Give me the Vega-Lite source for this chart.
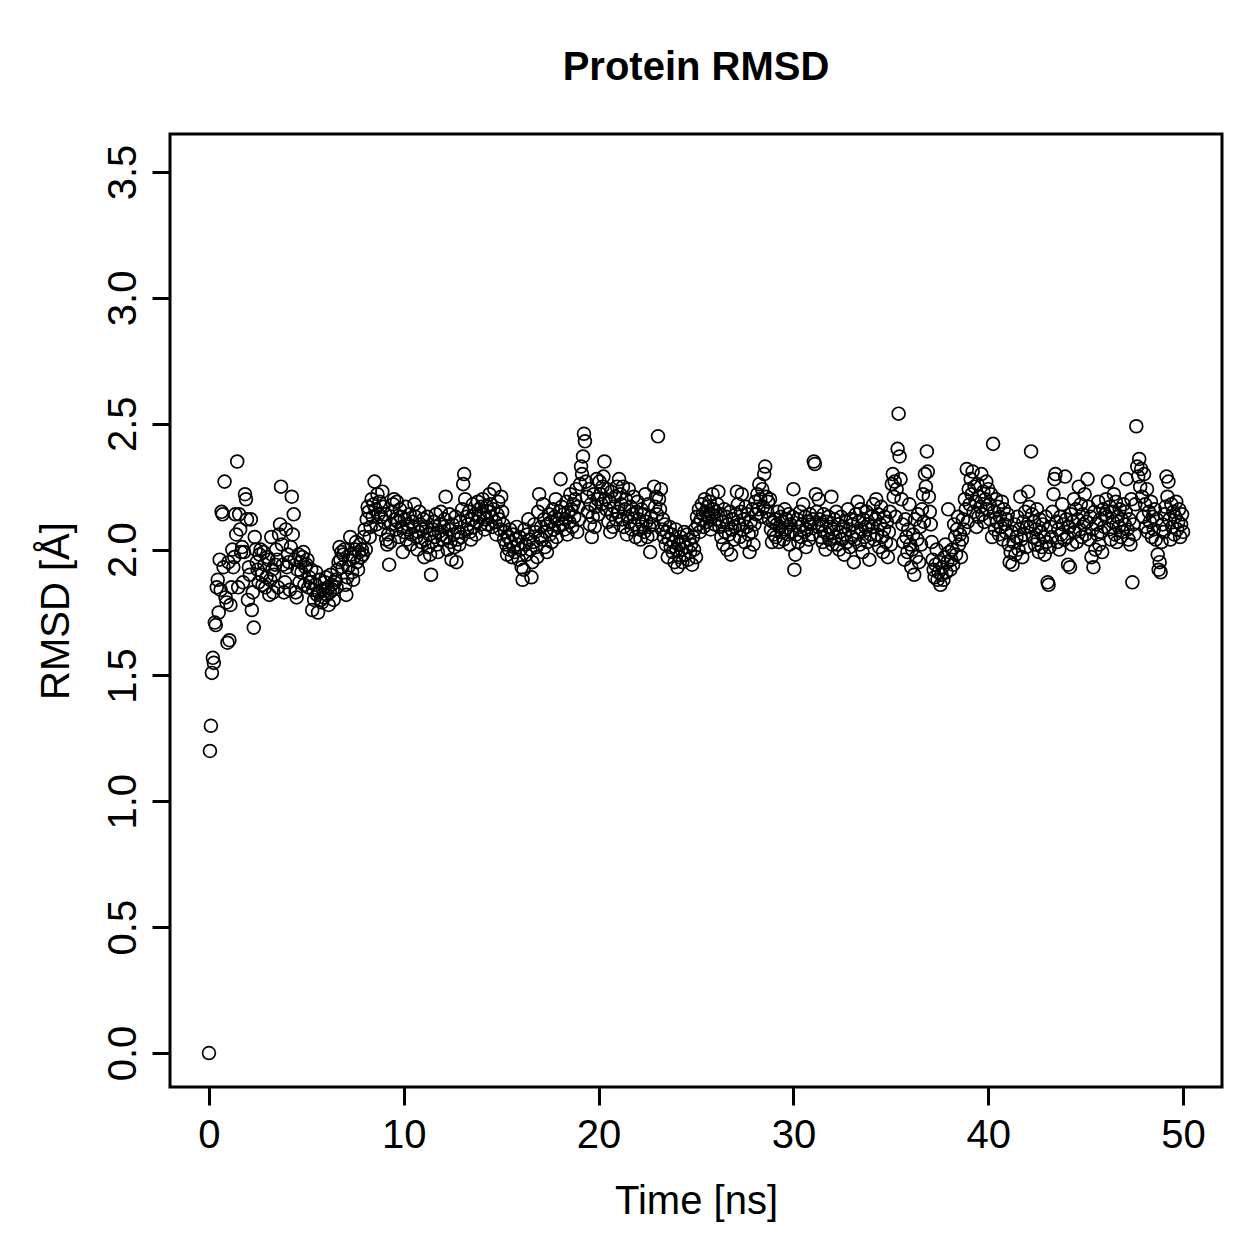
{
"$schema":"https://vega.github.io/schema/vega-lite/v6.json",
"width":1052,"height":953,
"autosize":{"type":"none"},
"padding":{"left":170,"top":134,"right":37,"bottom":172},
"background":"white",
"title":{"text":"Protein RMSD","font":"Liberation Sans","fontSize":40,"fontWeight":"bold","color":"black","anchor":"middle","frame":"group","offset":46},
"config":{"view":{"stroke":"black","strokeWidth":3}},
"data":{"values":[
{"t":0,"r":0},
{"t":0.05,"r":1.20},{"t":0.1,"r":1.30},{"t":0.15,"r":1.51},{"t":0.2,"r":1.57},{"t":0.25,"r":1.55},{"t":0.3,"r":1.71},{"t":0.35,"r":1.70},{"t":0.4,"r":1.85},{"t":0.45,"r":1.88},{"t":0.5,"r":1.75},{"t":0.55,"r":1.96},{"t":0.6,"r":1.84},{"t":0.65,"r":2.15},{"t":0.7,"r":2.14},{"t":0.75,"r":1.93},{"t":0.8,"r":2.27},{"t":0.85,"r":1.81},{"t":0.9,"r":1.79},{"t":0.95,"r":1.63},{"t":1,"r":1.95},
{"t":1.05,"r":1.64},{"t":1.1,"r":1.78},{"t":1.15,"r":1.85},{"t":1.2,"r":2.00},{"t":1.25,"r":1.93},{"t":1.3,"r":1.97},{"t":1.35,"r":2.14},{"t":1.4,"r":2.06},{"t":1.45,"r":2.35},{"t":1.5,"r":1.85},{"t":1.55,"r":2.14},{"t":1.6,"r":2.08},{"t":1.65,"r":1.99},{"t":1.7,"r":2.01},{"t":1.75,"r":1.87},{"t":1.8,"r":1.99},{"t":1.85,"r":2.22},{"t":1.9,"r":2.20},{"t":1.95,"r":2.12},{"t":2,"r":1.80},
{"t":2.05,"r":1.93},{"t":2.1,"r":1.90},{"t":2.15,"r":2.12},{"t":2.2,"r":1.76},{"t":2.25,"r":1.83},{"t":2.3,"r":1.69},{"t":2.35,"r":2.05},{"t":2.4,"r":2.00},{"t":2.45,"r":1.95},{"t":2.5,"r":1.92},{"t":2.55,"r":1.87},{"t":2.6,"r":1.98},{"t":2.65,"r":2.00},{"t":2.7,"r":1.90},{"t":2.75,"r":1.86},{"t":2.8,"r":1.99},{"t":2.85,"r":1.94},{"t":2.9,"r":1.85},{"t":2.95,"r":1.89},{"t":3,"r":1.97},
{"t":3.05,"r":1.96},{"t":3.1,"r":1.82},{"t":3.15,"r":1.88},{"t":3.2,"r":2.05},{"t":3.25,"r":1.92},{"t":3.3,"r":1.83},{"t":3.35,"r":1.90},{"t":3.4,"r":1.94},{"t":3.45,"r":2.00},{"t":3.5,"r":1.96},{"t":3.55,"r":1.85},{"t":3.6,"r":2.06},{"t":3.65,"r":2.10},{"t":3.7,"r":2.25},{"t":3.75,"r":2.02},{"t":3.8,"r":1.94},{"t":3.85,"r":1.83},{"t":3.9,"r":1.87},{"t":3.95,"r":2.08},{"t":4,"r":1.93},
{"t":4.05,"r":1.98},{"t":4.1,"r":1.95},{"t":4.15,"r":1.84},{"t":4.2,"r":2.01},{"t":4.25,"r":2.21},{"t":4.3,"r":2.06},{"t":4.35,"r":2.14},{"t":4.4,"r":1.96},{"t":4.45,"r":1.83},{"t":4.5,"r":1.81},{"t":4.55,"r":1.92},{"t":4.6,"r":1.98},{"t":4.65,"r":1.87},{"t":4.7,"r":1.95},{"t":4.75,"r":1.91},{"t":4.8,"r":1.97},{"t":4.85,"r":1.99},{"t":4.9,"r":1.86},{"t":4.95,"r":1.93},{"t":5,"r":1.94},
{"t":5.05,"r":1.96},{"t":5.1,"r":1.85},{"t":5.15,"r":1.89},{"t":5.2,"r":1.87},{"t":5.25,"r":1.92},{"t":5.3,"r":1.76},{"t":5.35,"r":1.84},{"t":5.4,"r":1.80},{"t":5.45,"r":1.86},{"t":5.5,"r":1.91},{"t":5.55,"r":1.82},{"t":5.6,"r":1.75},{"t":5.65,"r":1.83},{"t":5.7,"r":1.88},{"t":5.75,"r":1.80},{"t":5.8,"r":1.79},{"t":5.85,"r":1.84},{"t":5.9,"r":1.81},{"t":5.95,"r":1.87},{"t":6,"r":1.89},
{"t":6.05,"r":1.82},{"t":6.1,"r":1.85},{"t":6.15,"r":1.78},{"t":6.2,"r":1.83},{"t":6.25,"r":1.90},{"t":6.3,"r":1.86},{"t":6.35,"r":1.84},{"t":6.4,"r":1.80},{"t":6.45,"r":1.87},{"t":6.5,"r":1.88},{"t":6.55,"r":1.85},{"t":6.6,"r":1.92},{"t":6.65,"r":1.95},{"t":6.7,"r":2.01},{"t":6.75,"r":1.96},{"t":6.8,"r":1.99},{"t":6.85,"r":1.93},{"t":6.9,"r":1.98},{"t":6.95,"r":2.00},{"t":7,"r":1.86},
{"t":7.05,"r":1.82},{"t":7.1,"r":1.89},{"t":7.15,"r":1.93},{"t":7.2,"r":1.96},{"t":7.25,"r":2.05},{"t":7.3,"r":1.98},{"t":7.35,"r":1.91},{"t":7.4,"r":1.88},{"t":7.45,"r":1.97},{"t":7.5,"r":2.00},{"t":7.55,"r":2.03},{"t":7.6,"r":1.95},{"t":7.65,"r":1.92},{"t":7.7,"r":1.99},{"t":7.75,"r":2.02},{"t":7.8,"r":1.97},{"t":7.85,"r":2.00},{"t":7.9,"r":1.98},{"t":7.95,"r":2.05},{"t":8,"r":2.08},
{"t":8.05,"r":2.00},{"t":8.1,"r":2.12},{"t":8.15,"r":2.17},{"t":8.2,"r":2.15},{"t":8.25,"r":2.05},{"t":8.3,"r":2.09},{"t":8.35,"r":2.20},{"t":8.4,"r":2.13},{"t":8.45,"r":2.18},{"t":8.5,"r":2.27},{"t":8.55,"r":2.16},{"t":8.6,"r":2.10},{"t":8.65,"r":2.22},{"t":8.7,"r":2.14},{"t":8.75,"r":2.19},{"t":8.8,"r":2.08},{"t":8.85,"r":2.13},{"t":8.9,"r":2.23},{"t":8.95,"r":2.17},{"t":9,"r":2.11},
{"t":9.05,"r":2.14},{"t":9.1,"r":2.04},{"t":9.15,"r":2.02},{"t":9.2,"r":2.06},{"t":9.25,"r":1.94},{"t":9.3,"r":2.03},{"t":9.35,"r":2.10},{"t":9.4,"r":2.15},{"t":9.45,"r":2.18},{"t":9.5,"r":2.20},{"t":9.55,"r":2.12},{"t":9.6,"r":2.08},{"t":9.65,"r":2.19},{"t":9.7,"r":2.11},{"t":9.75,"r":2.05},{"t":9.8,"r":2.16},{"t":9.85,"r":2.13},{"t":9.9,"r":2.09},{"t":9.95,"r":1.99},{"t":10,"r":2.07},
{"t":10.05,"r":2.12},{"t":10.1,"r":2.17},{"t":10.15,"r":2.04},{"t":10.2,"r":2.10},{"t":10.25,"r":2.08},{"t":10.3,"r":2.14},{"t":10.35,"r":2.02},{"t":10.4,"r":2.06},{"t":10.45,"r":2.11},{"t":10.5,"r":2.09},{"t":10.55,"r":2.18},{"t":10.6,"r":2.13},{"t":10.65,"r":2.05},{"t":10.7,"r":2.00},{"t":10.75,"r":2.07},{"t":10.8,"r":2.15},{"t":10.85,"r":2.10},{"t":10.9,"r":2.03},{"t":10.95,"r":2.08},{"t":11,"r":2.12},
{"t":11.05,"r":1.97},{"t":11.1,"r":2.04},{"t":11.15,"r":2.09},{"t":11.2,"r":2.13},{"t":11.25,"r":2.01},{"t":11.3,"r":2.06},{"t":11.35,"r":1.98},{"t":11.4,"r":1.90},{"t":11.45,"r":2.03},{"t":11.5,"r":2.08},{"t":11.55,"r":2.11},{"t":11.6,"r":2.05},{"t":11.65,"r":2.14},{"t":11.7,"r":2.02},{"t":11.75,"r":1.99},{"t":11.8,"r":2.07},{"t":11.85,"r":2.10},{"t":11.9,"r":2.15},{"t":11.95,"r":2.06},{"t":12,"r":2.04},
{"t":12.05,"r":2.09},{"t":12.1,"r":2.12},{"t":12.15,"r":2.21},{"t":12.2,"r":2.05},{"t":12.25,"r":2.00},{"t":12.3,"r":2.08},{"t":12.35,"r":2.14},{"t":12.4,"r":2.03},{"t":12.45,"r":1.96},{"t":12.5,"r":2.10},{"t":12.55,"r":2.06},{"t":12.6,"r":2.01},{"t":12.65,"r":2.13},{"t":12.7,"r":1.95},{"t":12.75,"r":2.04},{"t":12.8,"r":2.07},{"t":12.85,"r":2.02},{"t":12.9,"r":2.11},{"t":12.95,"r":2.05},{"t":13,"r":2.16},
{"t":13.05,"r":2.26},{"t":13.1,"r":2.30},{"t":13.15,"r":2.20},{"t":13.2,"r":2.13},{"t":13.25,"r":2.08},{"t":13.3,"r":2.10},{"t":13.35,"r":2.15},{"t":13.4,"r":2.07},{"t":13.45,"r":2.04},{"t":13.5,"r":2.12},{"t":13.55,"r":2.18},{"t":13.6,"r":2.09},{"t":13.65,"r":2.14},{"t":13.7,"r":2.06},{"t":13.75,"r":2.11},{"t":13.8,"r":2.19},{"t":13.85,"r":2.16},{"t":13.9,"r":2.13},{"t":13.95,"r":2.10},{"t":14,"r":2.17},
{"t":14.05,"r":2.20},{"t":14.1,"r":2.14},{"t":14.15,"r":2.08},{"t":14.2,"r":2.12},{"t":14.25,"r":2.17},{"t":14.3,"r":2.10},{"t":14.35,"r":2.15},{"t":14.4,"r":2.22},{"t":14.45,"r":2.18},{"t":14.5,"r":2.13},{"t":14.55,"r":2.09},{"t":14.6,"r":2.16},{"t":14.65,"r":2.24},{"t":14.7,"r":2.11},{"t":14.75,"r":2.06},{"t":14.8,"r":2.14},{"t":14.85,"r":2.19},{"t":14.9,"r":2.12},{"t":14.95,"r":2.08},{"t":15,"r":2.21},
{"t":15.05,"r":2.15},{"t":15.1,"r":2.10},{"t":15.15,"r":2.04},{"t":15.2,"r":2.07},{"t":15.25,"r":2.02},{"t":15.3,"r":1.98},{"t":15.35,"r":2.05},{"t":15.4,"r":2.00},{"t":15.45,"r":2.08},{"t":15.5,"r":2.03},{"t":15.55,"r":1.97},{"t":15.6,"r":2.06},{"t":15.65,"r":2.01},{"t":15.7,"r":1.99},{"t":15.75,"r":2.04},{"t":15.8,"r":2.09},{"t":15.85,"r":2.02},{"t":15.9,"r":1.96},{"t":15.95,"r":2.05},{"t":16,"r":2.00},
{"t":16.05,"r":1.93},{"t":16.1,"r":1.88},{"t":16.15,"r":1.92},{"t":16.2,"r":2.08},{"t":16.25,"r":2.02},{"t":16.3,"r":1.98},{"t":16.35,"r":2.06},{"t":16.4,"r":2.12},{"t":16.45,"r":2.04},{"t":16.5,"r":2.00},{"t":16.55,"r":1.89},{"t":16.6,"r":1.95},{"t":16.65,"r":2.03},{"t":16.7,"r":2.10},{"t":16.75,"r":2.07},{"t":16.8,"r":2.01},{"t":16.85,"r":1.97},{"t":16.9,"r":2.15},{"t":16.95,"r":2.22},{"t":17,"r":2.05},
{"t":17.05,"r":2.09},{"t":17.1,"r":2.04},{"t":17.15,"r":2.18},{"t":17.2,"r":2.12},{"t":17.25,"r":2.01},{"t":17.3,"r":2.07},{"t":17.35,"r":1.99},{"t":17.4,"r":2.10},{"t":17.45,"r":2.14},{"t":17.5,"r":2.06},{"t":17.55,"r":2.11},{"t":17.6,"r":2.03},{"t":17.65,"r":2.16},{"t":17.7,"r":2.08},{"t":17.75,"r":2.13},{"t":17.8,"r":2.20},{"t":17.85,"r":2.05},{"t":17.9,"r":2.12},{"t":17.95,"r":2.09},{"t":18,"r":2.15},
{"t":18.05,"r":2.28},{"t":18.1,"r":2.17},{"t":18.15,"r":2.10},{"t":18.2,"r":2.14},{"t":18.25,"r":2.08},{"t":18.3,"r":2.12},{"t":18.35,"r":2.19},{"t":18.4,"r":2.06},{"t":18.45,"r":2.15},{"t":18.5,"r":2.11},{"t":18.55,"r":2.22},{"t":18.6,"r":2.16},{"t":18.65,"r":2.09},{"t":18.7,"r":2.18},{"t":18.75,"r":2.13},{"t":18.8,"r":2.20},{"t":18.85,"r":2.24},{"t":18.9,"r":2.07},{"t":18.95,"r":2.17},{"t":19,"r":2.12},
{"t":19.05,"r":2.26},{"t":19.1,"r":2.33},{"t":19.15,"r":2.30},{"t":19.2,"r":2.37},{"t":19.25,"r":2.46},{"t":19.3,"r":2.43},{"t":19.35,"r":2.27},{"t":19.4,"r":2.21},{"t":19.45,"r":2.15},{"t":19.5,"r":2.24},{"t":19.55,"r":2.10},{"t":19.6,"r":2.18},{"t":19.65,"r":2.05},{"t":19.7,"r":2.13},{"t":19.75,"r":2.22},{"t":19.8,"r":2.09},{"t":19.85,"r":2.17},{"t":19.9,"r":2.28},{"t":19.95,"r":2.20},{"t":20,"r":2.14},
{"t":20.05,"r":2.27},{"t":20.1,"r":2.22},{"t":20.15,"r":2.18},{"t":20.2,"r":2.25},{"t":20.25,"r":2.29},{"t":20.3,"r":2.35},{"t":20.35,"r":2.20},{"t":20.4,"r":2.16},{"t":20.45,"r":2.24},{"t":20.5,"r":2.11},{"t":20.55,"r":2.19},{"t":20.6,"r":2.07},{"t":20.65,"r":2.23},{"t":20.7,"r":2.14},{"t":20.75,"r":2.09},{"t":20.8,"r":2.17},{"t":20.85,"r":2.21},{"t":20.9,"r":2.12},{"t":20.95,"r":2.25},{"t":21,"r":2.15},
{"t":21.05,"r":2.28},{"t":21.1,"r":2.22},{"t":21.15,"r":2.18},{"t":21.2,"r":2.12},{"t":21.25,"r":2.25},{"t":21.3,"r":2.09},{"t":21.35,"r":2.16},{"t":21.4,"r":2.20},{"t":21.45,"r":2.06},{"t":21.5,"r":2.13},{"t":21.55,"r":2.24},{"t":21.6,"r":2.11},{"t":21.65,"r":2.17},{"t":21.7,"r":2.08},{"t":21.75,"r":2.14},{"t":21.8,"r":2.21},{"t":21.85,"r":2.10},{"t":21.9,"r":2.05},{"t":21.95,"r":2.15},{"t":22,"r":2.19},
{"t":22.05,"r":2.12},{"t":22.1,"r":2.08},{"t":22.15,"r":2.04},{"t":22.2,"r":2.16},{"t":22.25,"r":2.10},{"t":22.3,"r":2.14},{"t":22.35,"r":2.07},{"t":22.4,"r":2.22},{"t":22.45,"r":2.11},{"t":22.5,"r":2.05},{"t":22.55,"r":2.18},{"t":22.6,"r":2.09},{"t":22.65,"r":1.99},{"t":22.7,"r":2.13},{"t":22.75,"r":2.06},{"t":22.8,"r":2.10},{"t":22.85,"r":2.25},{"t":22.9,"r":2.17},{"t":22.95,"r":2.21},{"t":23,"r":2.14},
{"t":23.05,"r":2.45},{"t":23.1,"r":2.20},{"t":23.15,"r":2.16},{"t":23.2,"r":2.24},{"t":23.25,"r":2.08},{"t":23.3,"r":2.12},{"t":23.35,"r":2.05},{"t":23.4,"r":2.10},{"t":23.45,"r":2.02},{"t":23.5,"r":2.07},{"t":23.55,"r":1.97},{"t":23.6,"r":2.04},{"t":23.65,"r":2.09},{"t":23.7,"r":2.01},{"t":23.75,"r":2.06},{"t":23.8,"r":1.99},{"t":23.85,"r":2.03},{"t":23.9,"r":1.95},{"t":23.95,"r":2.08},{"t":24,"r":2.00},
{"t":24.05,"r":1.93},{"t":24.1,"r":2.02},{"t":24.15,"r":1.97},{"t":24.2,"r":2.05},{"t":24.25,"r":2.00},{"t":24.3,"r":1.95},{"t":24.35,"r":2.03},{"t":24.4,"r":2.07},{"t":24.45,"r":1.98},{"t":24.5,"r":2.01},{"t":24.55,"r":2.06},{"t":24.6,"r":1.96},{"t":24.65,"r":2.04},{"t":24.7,"r":1.99},{"t":24.75,"r":2.02},{"t":24.8,"r":1.94},{"t":24.85,"r":2.05},{"t":24.9,"r":2.00},{"t":24.95,"r":2.08},{"t":25,"r":1.97},
{"t":25.05,"r":2.13},{"t":25.1,"r":2.10},{"t":25.15,"r":2.16},{"t":25.2,"r":2.07},{"t":25.25,"r":2.12},{"t":25.3,"r":2.18},{"t":25.35,"r":2.14},{"t":25.4,"r":2.09},{"t":25.45,"r":2.20},{"t":25.5,"r":2.15},{"t":25.55,"r":2.11},{"t":25.6,"r":2.17},{"t":25.65,"r":2.13},{"t":25.7,"r":2.19},{"t":25.75,"r":2.08},{"t":25.8,"r":2.14},{"t":25.85,"r":2.22},{"t":25.9,"r":2.16},{"t":25.95,"r":2.10},{"t":26,"r":2.15},
{"t":26.05,"r":2.12},{"t":26.1,"r":2.18},{"t":26.15,"r":2.23},{"t":26.2,"r":2.09},{"t":26.25,"r":2.14},{"t":26.3,"r":2.05},{"t":26.35,"r":2.11},{"t":26.4,"r":2.02},{"t":26.45,"r":2.16},{"t":26.5,"r":2.07},{"t":26.55,"r":2.13},{"t":26.6,"r":2.00},{"t":26.65,"r":2.10},{"t":26.7,"r":2.06},{"t":26.75,"r":2.15},{"t":26.8,"r":1.98},{"t":26.85,"r":2.08},{"t":26.9,"r":2.12},{"t":26.95,"r":2.04},{"t":27,"r":2.09},
{"t":27.05,"r":2.14},{"t":27.1,"r":2.23},{"t":27.15,"r":2.18},{"t":27.2,"r":2.10},{"t":27.25,"r":2.05},{"t":27.3,"r":2.15},{"t":27.35,"r":2.22},{"t":27.4,"r":2.08},{"t":27.45,"r":2.12},{"t":27.5,"r":2.03},{"t":27.55,"r":2.17},{"t":27.6,"r":2.09},{"t":27.65,"r":2.14},{"t":27.7,"r":2.06},{"t":27.75,"r":1.99},{"t":27.8,"r":2.11},{"t":27.85,"r":2.07},{"t":27.9,"r":2.16},{"t":27.95,"r":2.02},{"t":28,"r":2.10},
{"t":28.05,"r":2.19},{"t":28.1,"r":2.14},{"t":28.15,"r":2.22},{"t":28.2,"r":2.16},{"t":28.25,"r":2.26},{"t":28.3,"r":2.20},{"t":28.35,"r":2.13},{"t":28.4,"r":2.24},{"t":28.45,"r":2.17},{"t":28.5,"r":2.30},{"t":28.55,"r":2.33},{"t":28.6,"r":2.21},{"t":28.65,"r":2.15},{"t":28.7,"r":2.19},{"t":28.75,"r":2.12},{"t":28.8,"r":2.20},{"t":28.85,"r":2.08},{"t":28.9,"r":2.03},{"t":28.95,"r":2.11},{"t":29,"r":2.06},
{"t":29.05,"r":2.12},{"t":29.1,"r":2.05},{"t":29.15,"r":2.10},{"t":29.2,"r":2.15},{"t":29.25,"r":2.03},{"t":29.3,"r":2.09},{"t":29.35,"r":2.13},{"t":29.4,"r":2.07},{"t":29.45,"r":2.11},{"t":29.5,"r":2.04},{"t":29.55,"r":2.16},{"t":29.6,"r":2.08},{"t":29.65,"r":2.12},{"t":29.7,"r":2.06},{"t":29.75,"r":2.14},{"t":29.8,"r":2.02},{"t":29.85,"r":2.10},{"t":29.9,"r":2.07},{"t":29.95,"r":2.13},{"t":30,"r":2.24},
{"t":30.05,"r":1.92},{"t":30.1,"r":1.98},{"t":30.15,"r":2.06},{"t":30.2,"r":2.12},{"t":30.25,"r":2.03},{"t":30.3,"r":2.09},{"t":30.35,"r":2.15},{"t":30.4,"r":2.05},{"t":30.45,"r":2.10},{"t":30.5,"r":2.18},{"t":30.55,"r":2.07},{"t":30.6,"r":2.13},{"t":30.65,"r":2.01},{"t":30.7,"r":2.08},{"t":30.75,"r":2.11},{"t":30.8,"r":2.04},{"t":30.85,"r":2.14},{"t":30.9,"r":2.10},{"t":30.95,"r":2.06},{"t":31,"r":2.12},
{"t":31.05,"r":2.35},{"t":31.1,"r":2.34},{"t":31.15,"r":2.22},{"t":31.2,"r":2.15},{"t":31.25,"r":2.09},{"t":31.3,"r":2.20},{"t":31.35,"r":2.12},{"t":31.4,"r":2.05},{"t":31.45,"r":2.10},{"t":31.5,"r":2.03},{"t":31.55,"r":2.14},{"t":31.6,"r":2.07},{"t":31.65,"r":2.00},{"t":31.7,"r":2.11},{"t":31.75,"r":2.06},{"t":31.8,"r":2.13},{"t":31.85,"r":2.04},{"t":31.9,"r":2.09},{"t":31.95,"r":2.21},{"t":32,"r":2.02},
{"t":32.05,"r":2.08},{"t":32.1,"r":2.12},{"t":32.15,"r":2.05},{"t":32.2,"r":2.15},{"t":32.25,"r":2.02},{"t":32.3,"r":2.10},{"t":32.35,"r":2.00},{"t":32.4,"r":2.07},{"t":32.45,"r":2.13},{"t":32.5,"r":2.04},{"t":32.55,"r":2.09},{"t":32.6,"r":1.98},{"t":32.65,"r":2.06},{"t":32.7,"r":2.11},{"t":32.75,"r":2.03},{"t":32.8,"r":2.16},{"t":32.85,"r":2.08},{"t":32.9,"r":2.01},{"t":32.95,"r":2.12},{"t":33,"r":2.05},
{"t":33.05,"r":2.10},{"t":33.1,"r":1.95},{"t":33.15,"r":2.04},{"t":33.2,"r":2.14},{"t":33.25,"r":2.07},{"t":33.3,"r":2.19},{"t":33.35,"r":2.11},{"t":33.4,"r":2.02},{"t":33.45,"r":2.16},{"t":33.5,"r":2.08},{"t":33.55,"r":1.99},{"t":33.6,"r":2.12},{"t":33.65,"r":2.05},{"t":33.7,"r":2.09},{"t":33.75,"r":2.15},{"t":33.8,"r":2.03},{"t":33.85,"r":2.10},{"t":33.9,"r":1.96},{"t":33.95,"r":2.06},{"t":34,"r":2.13},
{"t":34.05,"r":2.09},{"t":34.1,"r":2.18},{"t":34.15,"r":2.04},{"t":34.2,"r":2.12},{"t":34.25,"r":2.20},{"t":34.3,"r":2.06},{"t":34.35,"r":2.14},{"t":34.4,"r":2.01},{"t":34.45,"r":2.10},{"t":34.5,"r":2.17},{"t":34.55,"r":2.05},{"t":34.6,"r":1.99},{"t":34.65,"r":2.08},{"t":34.7,"r":2.13},{"t":34.75,"r":2.03},{"t":34.8,"r":2.11},{"t":34.85,"r":1.97},{"t":34.9,"r":2.07},{"t":34.95,"r":2.15},{"t":35,"r":2.02},
{"t":35.05,"r":2.26},{"t":35.1,"r":2.30},{"t":35.15,"r":2.21},{"t":35.2,"r":2.27},{"t":35.25,"r":2.13},{"t":35.3,"r":2.24},{"t":35.35,"r":2.40},{"t":35.4,"r":2.54},{"t":35.45,"r":2.37},{"t":35.5,"r":2.28},{"t":35.55,"r":2.20},{"t":35.6,"r":2.10},{"t":35.65,"r":2.03},{"t":35.7,"r":1.96},{"t":35.75,"r":2.12},{"t":35.8,"r":2.05},{"t":35.85,"r":1.99},{"t":35.9,"r":2.08},{"t":35.95,"r":2.18},{"t":36,"r":2.02},
{"t":36.05,"r":1.93},{"t":36.1,"r":2.00},{"t":36.15,"r":2.06},{"t":36.2,"r":1.90},{"t":36.25,"r":2.12},{"t":36.3,"r":1.97},{"t":36.35,"r":2.04},{"t":36.4,"r":2.14},{"t":36.45,"r":1.95},{"t":36.5,"r":2.09},{"t":36.55,"r":2.02},{"t":36.6,"r":2.16},{"t":36.65,"r":2.22},{"t":36.7,"r":2.11},{"t":36.75,"r":2.30},{"t":36.8,"r":2.25},{"t":36.85,"r":2.39},{"t":36.9,"r":2.31},{"t":36.95,"r":2.21},{"t":37,"r":2.15},
{"t":37.05,"r":2.10},{"t":37.1,"r":2.03},{"t":37.15,"r":1.96},{"t":37.2,"r":1.92},{"t":37.25,"r":1.89},{"t":37.3,"r":1.94},{"t":37.35,"r":2.00},{"t":37.4,"r":1.88},{"t":37.45,"r":1.91},{"t":37.5,"r":1.95},{"t":37.55,"r":1.86},{"t":37.6,"r":1.90},{"t":37.65,"r":1.93},{"t":37.7,"r":1.88},{"t":37.75,"r":1.97},{"t":37.8,"r":2.02},{"t":37.85,"r":1.91},{"t":37.9,"r":1.95},{"t":37.95,"r":2.16},{"t":38,"r":1.99},
{"t":38.05,"r":1.92},{"t":38.1,"r":1.96},{"t":38.15,"r":2.00},{"t":38.2,"r":1.94},{"t":38.25,"r":2.10},{"t":38.3,"r":2.05},{"t":38.35,"r":1.98},{"t":38.4,"r":2.08},{"t":38.45,"r":2.13},{"t":38.5,"r":2.02},{"t":38.55,"r":2.06},{"t":38.6,"r":1.97},{"t":38.65,"r":2.04},{"t":38.7,"r":2.12},{"t":38.75,"r":2.08},{"t":38.8,"r":2.20},{"t":38.85,"r":2.16},{"t":38.9,"r":2.32},{"t":38.95,"r":2.11},{"t":39,"r":2.24},
{"t":39.05,"r":2.18},{"t":39.1,"r":2.28},{"t":39.15,"r":2.22},{"t":39.2,"r":2.31},{"t":39.25,"r":2.15},{"t":39.3,"r":2.25},{"t":39.35,"r":2.19},{"t":39.4,"r":2.09},{"t":39.45,"r":2.26},{"t":39.5,"r":2.13},{"t":39.55,"r":2.21},{"t":39.6,"r":2.17},{"t":39.65,"r":2.30},{"t":39.7,"r":2.14},{"t":39.75,"r":2.23},{"t":39.8,"r":2.11},{"t":39.85,"r":2.20},{"t":39.9,"r":2.27},{"t":39.95,"r":2.16},{"t":40,"r":2.24},
{"t":40.05,"r":2.18},{"t":40.1,"r":2.12},{"t":40.15,"r":2.22},{"t":40.2,"r":2.05},{"t":40.25,"r":2.42},{"t":40.3,"r":2.15},{"t":40.35,"r":2.08},{"t":40.4,"r":2.20},{"t":40.45,"r":2.11},{"t":40.5,"r":2.17},{"t":40.55,"r":2.06},{"t":40.6,"r":2.13},{"t":40.65,"r":2.09},{"t":40.7,"r":2.19},{"t":40.75,"r":2.04},{"t":40.8,"r":2.16},{"t":40.85,"r":2.10},{"t":40.9,"r":2.07},{"t":40.95,"r":2.12},{"t":41,"r":2.14},
{"t":41.05,"r":2.02},{"t":41.1,"r":1.95},{"t":41.15,"r":1.99},{"t":41.2,"r":2.07},{"t":41.25,"r":1.94},{"t":41.3,"r":2.03},{"t":41.35,"r":2.10},{"t":41.4,"r":1.98},{"t":41.45,"r":2.05},{"t":41.5,"r":2.13},{"t":41.55,"r":2.00},{"t":41.6,"r":2.08},{"t":41.65,"r":2.21},{"t":41.7,"r":2.04},{"t":41.75,"r":1.97},{"t":41.8,"r":2.11},{"t":41.85,"r":2.06},{"t":41.9,"r":2.15},{"t":41.95,"r":2.01},{"t":42,"r":2.09},
{"t":42.05,"r":2.23},{"t":42.1,"r":2.17},{"t":42.15,"r":2.09},{"t":42.2,"r":2.39},{"t":42.25,"r":2.14},{"t":42.3,"r":2.05},{"t":42.35,"r":2.11},{"t":42.4,"r":2.02},{"t":42.45,"r":2.08},{"t":42.5,"r":2.16},{"t":42.55,"r":2.04},{"t":42.6,"r":1.99},{"t":42.65,"r":2.12},{"t":42.7,"r":2.07},{"t":42.75,"r":2.01},{"t":42.8,"r":2.10},{"t":42.85,"r":2.05},{"t":42.9,"r":1.98},{"t":42.95,"r":2.13},{"t":43,"r":2.03},
{"t":43.05,"r":1.87},{"t":43.1,"r":1.86},{"t":43.15,"r":2.01},{"t":43.2,"r":2.09},{"t":43.25,"r":2.05},{"t":43.3,"r":2.15},{"t":43.35,"r":2.22},{"t":43.4,"r":2.28},{"t":43.45,"r":2.30},{"t":43.5,"r":2.11},{"t":43.55,"r":2.03},{"t":43.6,"r":2.08},{"t":43.65,"r":2.00},{"t":43.7,"r":2.13},{"t":43.75,"r":2.06},{"t":43.8,"r":2.18},{"t":43.85,"r":2.10},{"t":43.9,"r":2.04},{"t":43.95,"r":2.29},{"t":44,"r":2.12},
{"t":44.05,"r":2.05},{"t":44.1,"r":1.94},{"t":44.15,"r":2.09},{"t":44.2,"r":1.93},{"t":44.25,"r":2.14},{"t":44.3,"r":2.02},{"t":44.35,"r":2.11},{"t":44.4,"r":2.20},{"t":44.45,"r":2.07},{"t":44.5,"r":2.16},{"t":44.55,"r":2.03},{"t":44.6,"r":2.12},{"t":44.65,"r":2.25},{"t":44.7,"r":2.08},{"t":44.75,"r":2.18},{"t":44.8,"r":2.05},{"t":44.85,"r":2.14},{"t":44.9,"r":2.10},{"t":44.95,"r":2.22},{"t":45,"r":2.06},
{"t":45.05,"r":2.11},{"t":45.1,"r":2.28},{"t":45.15,"r":2.17},{"t":45.2,"r":2.04},{"t":45.25,"r":2.13},{"t":45.3,"r":1.97},{"t":45.35,"r":2.08},{"t":45.4,"r":1.93},{"t":45.45,"r":2.15},{"t":45.5,"r":2.00},{"t":45.55,"r":2.10},{"t":45.6,"r":2.06},{"t":45.65,"r":2.19},{"t":45.7,"r":2.02},{"t":45.75,"r":2.12},{"t":45.8,"r":2.07},{"t":45.85,"r":1.99},{"t":45.9,"r":2.16},{"t":45.95,"r":2.09},{"t":46,"r":2.14},
{"t":46.05,"r":2.20},{"t":46.1,"r":2.13},{"t":46.15,"r":2.27},{"t":46.2,"r":2.08},{"t":46.25,"r":2.17},{"t":46.3,"r":2.04},{"t":46.35,"r":2.15},{"t":46.4,"r":2.11},{"t":46.45,"r":2.22},{"t":46.5,"r":2.06},{"t":46.55,"r":2.19},{"t":46.6,"r":2.03},{"t":46.65,"r":2.13},{"t":46.7,"r":2.09},{"t":46.75,"r":2.16},{"t":46.8,"r":2.05},{"t":46.85,"r":2.12},{"t":46.9,"r":2.07},{"t":46.95,"r":2.18},{"t":47,"r":2.10},
{"t":47.05,"r":2.15},{"t":47.1,"r":2.28},{"t":47.15,"r":2.08},{"t":47.2,"r":2.04},{"t":47.25,"r":2.12},{"t":47.3,"r":2.02},{"t":47.35,"r":2.20},{"t":47.4,"r":1.87},{"t":47.45,"r":2.10},{"t":47.5,"r":2.06},{"t":47.55,"r":2.18},{"t":47.6,"r":2.49},{"t":47.65,"r":2.33},{"t":47.7,"r":2.29},{"t":47.75,"r":2.36},{"t":47.8,"r":2.25},{"t":47.85,"r":2.32},{"t":47.9,"r":2.21},{"t":47.95,"r":2.13},{"t":48,"r":2.30},
{"t":48.05,"r":2.18},{"t":48.1,"r":2.09},{"t":48.15,"r":2.24},{"t":48.2,"r":2.07},{"t":48.25,"r":2.15},{"t":48.3,"r":2.11},{"t":48.35,"r":2.19},{"t":48.4,"r":2.05},{"t":48.45,"r":2.13},{"t":48.5,"r":2.08},{"t":48.55,"r":2.16},{"t":48.6,"r":2.04},{"t":48.65,"r":2.12},{"t":48.7,"r":1.98},{"t":48.75,"r":1.92},{"t":48.8,"r":1.95},{"t":48.85,"r":1.91},{"t":48.9,"r":2.03},{"t":48.95,"r":2.10},{"t":49,"r":2.07},
{"t":49.05,"r":2.14},{"t":49.1,"r":2.17},{"t":49.15,"r":2.29},{"t":49.2,"r":2.21},{"t":49.25,"r":2.27},{"t":49.3,"r":2.12},{"t":49.35,"r":2.04},{"t":49.4,"r":2.18},{"t":49.45,"r":2.09},{"t":49.5,"r":2.15},{"t":49.55,"r":2.06},{"t":49.6,"r":2.13},{"t":49.65,"r":2.19},{"t":49.7,"r":2.08},{"t":49.75,"r":2.11},{"t":49.8,"r":2.16},{"t":49.85,"r":2.05},{"t":49.9,"r":2.10},{"t":49.95,"r":2.14},{"t":50,"r":2.07}
]},
"mark":{"type":"point","shape":"circle","filled":false,"color":"black","strokeWidth":1.7,"size":165,"opacity":1},
"encoding":{
"x":{"field":"t","type":"quantitative","scale":{"domain":[-2,52],"nice":false,"zero":false},
"axis":{"title":"Time [ns]","values":[0,10,20,30,40,50],"format":"d","grid":false,"domain":false,"ticks":true,"tickSize":18,"tickWidth":3,"tickColor":"black","labelFont":"Liberation Sans","labelFontSize":40,"labelColor":"black","labelPadding":10,"labelBaseline":"top","titleFont":"Liberation Sans","titleFontSize":40,"titleFontWeight":"normal","titleColor":"black","titleBaseline":"alphabetic","titleY":126}},
"y":{"field":"r","type":"quantitative","scale":{"domain":[-0.135,3.651],"nice":false,"zero":false},
"axis":{"title":"RMSD [Å]","values":[0,0.5,1,1.5,2,2.5,3,3.5],"format":".1f","grid":false,"domain":false,"ticks":true,"tickSize":18,"tickWidth":3,"tickColor":"black","labelFont":"Liberation Sans","labelFontSize":40,"labelColor":"black","labelAngle":-90,"labelAlign":"center","labelBaseline":"alphabetic","labelPadding":17,"titleFont":"Liberation Sans","titleFontSize":40,"titleFontWeight":"normal","titleColor":"black","titleAngle":-90,"titleBaseline":"alphabetic","titleX":-102}}
}
}
